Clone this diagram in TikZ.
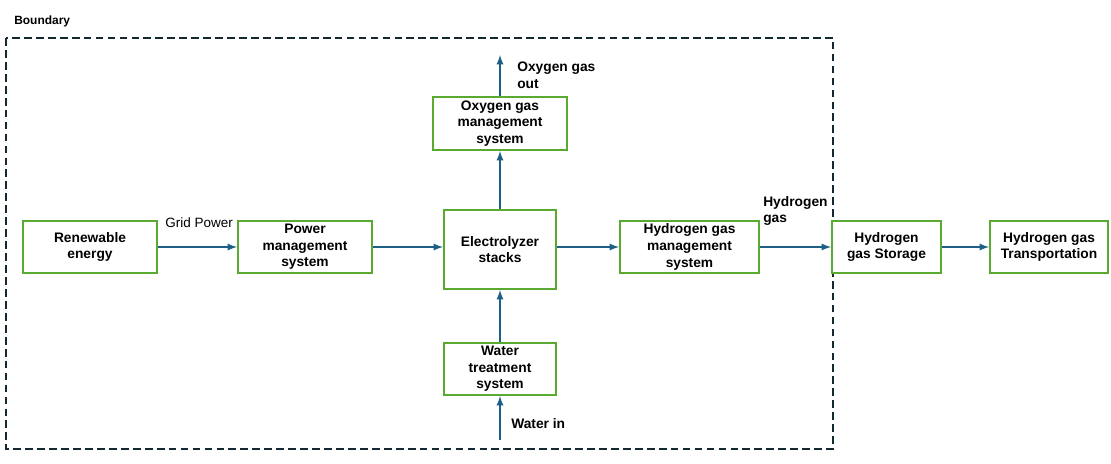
\documentclass[tikz,border=0pt]{standalone}
\usepackage{fontspec}
\setmainfont{Liberation Sans}
\usetikzlibrary{positioning}
\definecolor{boxgreen}{RGB}{90,170,50}
\definecolor{flowblue}{RGB}{30,95,135}
\definecolor{lineblack}{RGB}{20,40,50}
\tikzset{block/.style = {draw=boxgreen, line width=1.4pt, fill=white, align=center, font=\bfseries\fontsize{9.8}{11.8}\selectfont, inner sep=1pt}}
\tikzset{flow/.style = {->, flowblue, line width=1.3pt}}
\tikzset{tag/.style = {align=left, anchor=west, inner sep=0pt, font=\bfseries\fontsize{9.8}{11.8}\selectfont}}

\begin{document}
\begin{tikzpicture}[x=0.025cm, y=-0.025cm, >=latex]
  \useasboundingbox (0,0) rectangle (1111,463);
  \draw[lineblack, line width=1.3pt, dash pattern=on 5.5pt off 3pt] (6,38) rectangle (833,449);
  \node[tag, font=\bfseries\fontsize{8.5}{10}\selectfont] (bound) at (14,21) {Boundary};

  \node [block, minimum width=134*0.025cm, minimum height=52*0.025cm] (re) at (90,247) {Renewable\\energy};
  \node [block, minimum width=134*0.025cm, minimum height=52*0.025cm] (pm) at (305,247) {Power\\management\\system};
  \node [block, minimum width=112*0.025cm, minimum height=79*0.025cm] (es) at (500,249.5) {Electrolyzer\\stacks};
  \node [block, minimum width=134*0.025cm, minimum height=53*0.025cm] (om) at (500,123.5) {Oxygen gas\\management\\system};
  \node [block, minimum width=139*0.025cm, minimum height=52*0.025cm] (hm) at (689.5,247) {Hydrogen gas\\management\\system};
  \node [block, minimum width=109*0.025cm, minimum height=52*0.025cm] (hs) at (886.5,247) {Hydrogen\\gas Storage};
  \node [block, minimum width=118*0.025cm, minimum height=52*0.025cm] (ht) at (1049,247) {Hydrogen gas\\Transportation};
  \node [block, minimum width=112*0.025cm, minimum height=52*0.025cm] (wt) at (500,369) {Water\\treatment\\system};

  \coordinate (oout) at (500,55);
  \coordinate (win) at (500,440);

  \draw[flow] (re) -- (pm);
  \draw[flow] (pm.east) -- (pm.east -| es.west);
  \draw[flow] (hm.west -| es.east) -- (hm.west);
  \draw[flow] (hm) -- (hs);
  \draw[flow] (hs) -- (ht);
  \draw[flow] (es) -- (om);
  \draw[flow] (om) -- (oout);
  \draw[flow] (win) -- (wt);
  \draw[flow] (wt) -- (es);

  \node[tag, font=\fontsize{9.6}{11.5}\selectfont] (grid) at (165,223) {Grid Power};
  \node[tag] (oxout) at (517,75) {Oxygen gas\\out};
  \node[tag] (h2gas) at (763,211) {Hydrogen\\gas};
  \node[tag] (water) at (511,424) {Water in};
\end{tikzpicture}
\end{document}
